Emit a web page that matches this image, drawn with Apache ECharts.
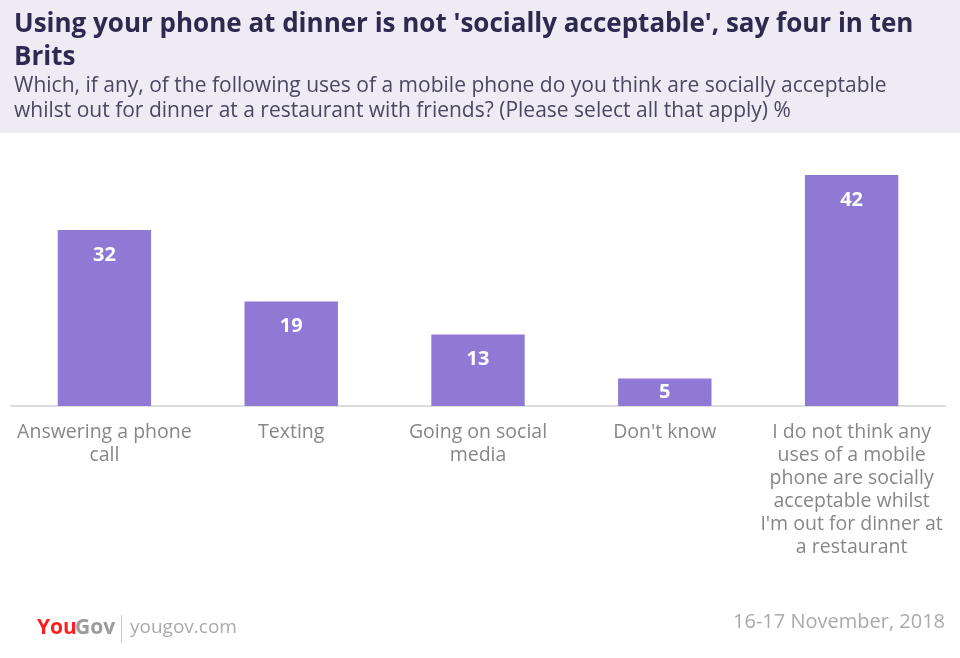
<!DOCTYPE html>
<html><head><meta charset="utf-8">
<script src="https://cdn.jsdelivr.net/npm/echarts@6/dist/echarts.min.js"></script>
<style>html,body{margin:0;padding:0;background:#fff}#c{width:960px;height:658px}</style>
</head><body><div id="c"></div>
<script>
const categories = ["Answering a phone\ncall", "Texting", "Going on social\nmedia", "Don't know", "I do not think any\nuses of a mobile\nphone are socially\nacceptable whilst\nI'm out for dinner at\na restaurant"];
const values = [32, 19, 13, 5, 42];
const titleText = "Using your phone at dinner is not 'socially acceptable', say four in ten\nBrits";
const subtitleText = "Which, if any, of the following uses of a mobile phone do you think are socially acceptable\nwhilst out for dinner at a restaurant with friends? (Please select all that apply) %";
const dateText = "16-17 November, 2018";

const chart = echarts.init(document.getElementById('c'));
chart.setOption({
  backgroundColor: '#fff',
  animation: false,
  graphic: [
    {type: 'rect', left: 0, top: 0, shape: {width: 960, height: 133}, style: {fill: '#eeebf5'}, z: -1},
    {type: 'text', left: 37, top: 618, style: {text: 'You', fill: '#ff1e1e', font: 'bold 21px "Open Sans", sans-serif'}},
    {type: 'text', left: 75, top: 618, style: {text: 'Gov', fill: '#9b9b9b', font: 'bold 21px "Open Sans", sans-serif'}},
    {type: 'rect', left: 121, top: 615, shape: {width: 1, height: 28}, style: {fill: '#c8c8c8'}},
    {type: 'text', left: 130, top: 618, style: {text: 'yougov.com', fill: '#aaaaaa', font: '19px "Open Sans", sans-serif'}},
    {type: 'text', right: 15, top: 612, style: {text: dateText, fill: '#aaaaaa', font: '20px "Open Sans", sans-serif'}}
  ],
  title: [
    {text: titleText, left: 9, top: 3, textStyle: {fontSize: 26, fontWeight: 'bold', color: '#2e2a4f', fontFamily: 'Open Sans', lineHeight: 33}},
    {text: subtitleText, left: 9, top: 69, textStyle: {fontSize: 21, fontWeight: 'normal', color: '#4a4860', fontFamily: 'Open Sans', lineHeight: 25}}
  ],
  grid: {left: 11, right: 15, top: 131, bottom: 252, containLabel: false},
  xAxis: {
    type: 'category', data: categories,
    axisLine: {lineStyle: {color: '#dcdcdc', width: 2}},
    axisTick: {show: false},
    axisLabel: {interval: 0, margin: 15, color: '#878787', fontSize: 19.5, fontFamily: 'Open Sans', lineHeight: 23}
  },
  yAxis: {type: 'value', min: 0, max: 50, show: false, splitLine: {show: false}},
  series: [{
    type: 'bar',
    data: values.map(v => v < 10 ? {value: v, label: {position: 'inside'}} : v),
    barWidth: '50%',
    itemStyle: {color: '#9079d5'},
    label: {show: true, position: 'insideTop', distance: 15, color: '#fff', fontSize: 20, fontWeight: 'bold', fontFamily: 'Open Sans'}
  }]
});
</script></body></html>
